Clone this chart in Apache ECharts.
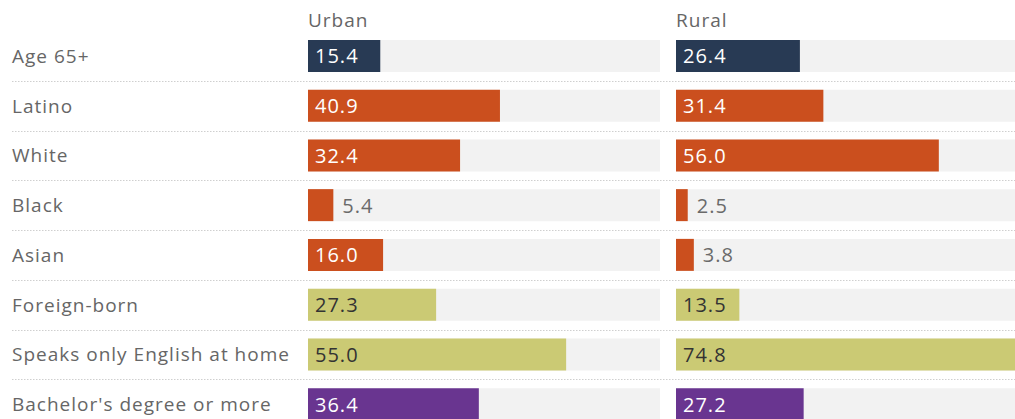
<!DOCTYPE html>
<html><head><meta charset="utf-8">
<script src="https://cdn.jsdelivr.net/npm/echarts@6/dist/echarts.min.js"></script>
<style>html,body{margin:0;padding:0;background:#fff;overflow:hidden}#c{width:1030px;height:432px}#c svg text{letter-spacing:1px}</style>
</head><body><div id="c"></div>
<script>
const categories = ["Age 65+","Latino","White","Black","Asian","Foreign-born","Speaks only English at home","Bachelor's degree or more"];
const urban = [15.4,40.9,32.4,5.4,16.0,27.3,55.0,36.4];
const rural = [26.4,31.4,56.0,2.5,3.8,13.5,74.8,27.2];
const groups = ["age","race","race","race","race","nativity","nativity","edu"];
const panelTitles = ["Urban","Rural"];

const groupColor = {age:"#283a54", race:"#cb4f1e", nativity:"#cbca74", edu:"#693590"};
const groupText = {age:"#ffffff", race:"#ffffff", nativity:"#333333", edu:"#ffffff"};
const FONT = "Open Sans";

function items(vals){
  return vals.map((v,i)=>{
    const small = v < 10;
    return {
      value: v,
      itemStyle: {color: groupColor[groups[i]]},
      label: small
        ? {position:"right", distance:9, color:"#6a6a6a"}
        : {position:"insideLeft", distance:7, color:groupText[groups[i]]}
    };
  });
}

const gridTop = 31, gridH = 398;
const chart = echarts.init(document.getElementById('c'), null, {renderer:"svg"});
const barSeries = (vals, idx) => ({
  type:"bar", xAxisIndex:idx, yAxisIndex:idx, data: items(vals), barWidth:32,
  showBackground:true, backgroundStyle:{color:"#f2f2f2"},
  label:{show:true, fontFamily:FONT, fontSize:20, formatter: p => p.value.toFixed(1)},
  silent:true, animation:false
});
const catAxis = (idx, showLabels) => ({
  type:"category", gridIndex:idx, data:categories, inverse:true,
  axisLine:{show:false}, axisTick:{show:false}, splitLine:{show:false},
  axisLabel: showLabels ? {show:true, align:"left", margin:296, color:"#666666", fontFamily:FONT, fontSize:19} : {show:false}
});
const valAxis = (idx) => ({type:"value", gridIndex:idx, min:0, max:75, show:false});

chart.setOption({
  animation:false,
  title: panelTitles.map((t,i)=>({text:t, left: i===0?308:676, top:10, padding:0,
    textStyle:{color:"#666666", fontFamily:FONT, fontSize:19, fontWeight:"normal"}})),
  grid:[
    {left:308, width:352, top:gridTop, height:gridH},
    {left:676, width:352, top:gridTop, height:gridH},
    {left:12, width:1003, top:gridTop, height:gridH}
  ],
  xAxis:[valAxis(0), valAxis(1), {type:"value", gridIndex:2, min:0, max:1, show:false}],
  yAxis:[catAxis(0,true), catAxis(1,false), catAxis(2,false)],
  series:[
    barSeries(urban,0),
    barSeries(rural,1),
    {
      type:"custom", xAxisIndex:2, yAxisIndex:2, silent:true, z:0,
      data: categories.slice(1).map((c,i)=>[0,i+1]),
      renderItem:(params, api)=>{
        const cat = api.value(1);
        const p0 = api.coord([0,cat]), p1 = api.coord([1,cat]);
        const h = api.size([0,1])[1];
        const y = Math.round(p0[1] - h/2) + 0.5;
        return {type:"line", shape:{x1:p0[0], y1:y, x2:p1[0], y2:y},
          style:{stroke:"#cfcfcf", lineWidth:1, lineDash:[1.5,1.5]}};
      }
    }
  ]
});
</script></body></html>
